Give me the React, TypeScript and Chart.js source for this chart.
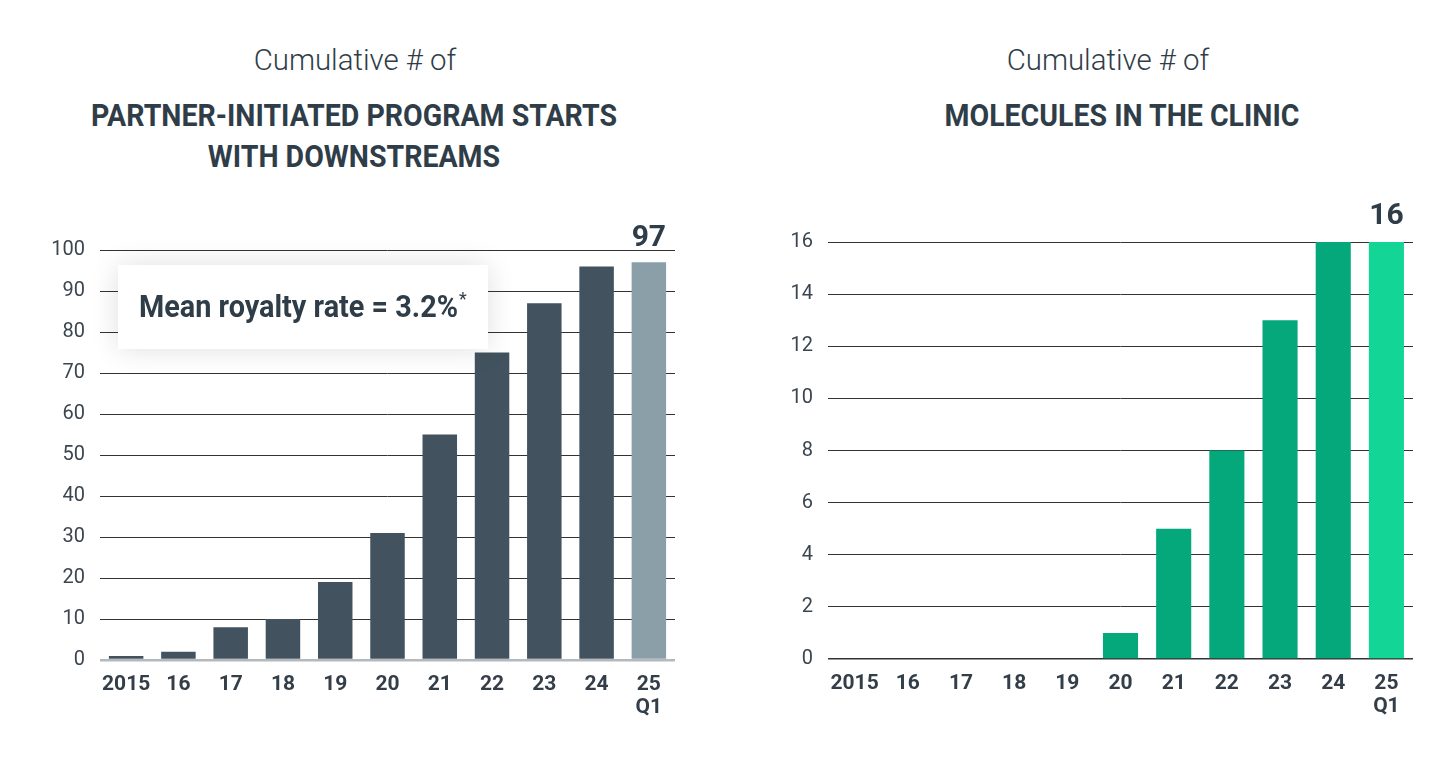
import React, { useEffect, useRef } from 'react';
import { Chart, registerables } from 'chart.js';

Chart.register(...registerables);

const categories: (string | string[])[] = ['2015', '16', '17', '18', '19', '20', '21', '22', '23', '24', ['25', 'Q1']];
const programStarts = [1, 2, 8, 10, 19, 31, 55, 75, 87, 96, 97];
const molecules = [0, 0, 0, 0, 0, 1, 5, 8, 13, 16, 16];
const leftColors = ['#42535f', '#42535f', '#42535f', '#42535f', '#42535f', '#42535f', '#42535f', '#42535f', '#42535f', '#42535f', '#8a9fa8'];
const rightColors = ['#05a87a', '#05a87a', '#05a87a', '#05a87a', '#05a87a', '#05a87a', '#05a87a', '#05a87a', '#05a87a', '#05a87a', '#12d596'];
const leftTicks = { max: 100, step: 10 };
const rightTicks = { max: 16, step: 2 };
const annotationText = 'Mean royalty rate = 3.2%';

const TEXT = '#2f3d48';

const lastValuePlugin = {
  id: 'lastValue',
  afterDatasetsDraw(chart: any, _args: any, opts: any) {
    const meta = chart.getDatasetMeta(0);
    const idx = meta.data.length - 1;
    const el = meta.data[idx];
    const v = chart.data.datasets[0].data[idx];
    const ctx = chart.ctx;
    ctx.save();
    ctx.font = 'bold 30px Roboto';
    ctx.fillStyle = TEXT;
    ctx.textAlign = 'center';
    ctx.textBaseline = 'bottom';
    ctx.fillText(String(v), el.x, el.y - (opts.gap ?? 9));
    ctx.restore();
  },
};

const annotationPlugin = {
  id: 'royaltyBox',
  afterDatasetsDraw(chart: any, _args: any, opts: any) {
    if (!opts || !opts.text) return;
    const ctx = chart.ctx;
    const a = chart.chartArea;
    const x = a.left + 18;
    const y = a.top + 15;
    const w = 370;
    const h = 84;
    ctx.save();
    ctx.shadowColor = 'rgba(0,0,0,0.13)';
    ctx.shadowBlur = 28;
    ctx.fillStyle = '#ffffff';
    ctx.fillRect(x, y, w, h);
    ctx.shadowColor = 'transparent';
    ctx.shadowBlur = 0;
    ctx.fillStyle = TEXT;
    ctx.font = 'bold 32px Roboto';
    ctx.textAlign = 'left';
    ctx.textBaseline = 'alphabetic';
    const tw = ctx.measureText(opts.text).width;
    const target = 319;
    const sx = target / tw;
    ctx.save();
    ctx.translate(x + 21, y + 52);
    ctx.scale(sx, 1);
    ctx.fillText(opts.text, 0, 0);
    ctx.restore();
    ctx.font = '18px Roboto';
    ctx.fillText('*', x + 21 + target + 1, y + 40);
    ctx.restore();
  },
};

function makeChart(
  canvas: HTMLCanvasElement,
  data: number[],
  colors: string[],
  ticks: { max: number; step: number },
  layout: { top: number; right: number; yWidth: number; xHeight: number },
  zeroColor: string,
  zeroWidth: number,
  gap: number,
  annotation: string | null
) {
  return new Chart(canvas, {
    type: 'bar',
    data: {
      labels: categories as any,
      datasets: [
        {
          data,
          backgroundColor: colors,
          borderWidth: 0,
          categoryPercentage: 1,
          barPercentage: 0.66,
        },
      ],
    },
    options: {
      animation: false,
      responsive: true,
      maintainAspectRatio: false,
      layout: { padding: { top: layout.top, right: layout.right, left: 0, bottom: 0 } },
      plugins: {
        legend: { display: false },
        tooltip: { enabled: false },
        lastValue: { gap },
        royaltyBox: { text: annotation },
      } as any,
      scales: {
        x: {
          grid: { display: false },
          border: { display: false },
          ticks: {
            color: '#333e48',
            font: { family: 'Roboto', size: 21, weight: 'bold', lineHeight: 1.1 },
            padding: 5,
            maxRotation: 0,
            autoSkip: false,
          },
          afterFit(scale: any) {
            scale.height = layout.xHeight;
          },
        },
        y: {
          min: 0,
          max: ticks.max,
          border: { display: false },
          grid: {
            drawTicks: false,
            color: (c: any) => (c.tick && c.tick.value === 0 ? zeroColor : '#333333'),
            lineWidth: (c: any) => (c.tick && c.tick.value === 0 ? zeroWidth : 1),
          },
          ticks: {
            stepSize: ticks.step,
            color: '#3c4650',
            font: { family: 'Roboto', size: 20 },
            padding: 15,
          },
          afterFit(scale: any) {
            scale.width = layout.yWidth;
          },
        },
      },
    },
    plugins: [lastValuePlugin, annotationPlugin],
  });
}

const titleSmall: React.CSSProperties = {
  position: 'absolute',
  fontFamily: 'Roboto',
  fontWeight: 300,
  fontSize: 30,
  color: TEXT,
  textAlign: 'center',
  whiteSpace: 'nowrap',
  transform: 'translateX(-50%) scaleX(0.98)',
  lineHeight: '34px',
};

const titleBig: React.CSSProperties = {
  position: 'absolute',
  fontFamily: 'Roboto',
  fontWeight: 700,
  fontSize: 31,
  color: TEXT,
  textAlign: 'center',
  whiteSpace: 'nowrap',
  transform: 'translateX(-50%) scaleX(0.92)',
  lineHeight: '41px',
};

export default function App() {
  const leftRef = useRef<HTMLCanvasElement>(null);
  const rightRef = useRef<HTMLCanvasElement>(null);

  useEffect(() => {
    const c1 = makeChart(
      leftRef.current!,
      programStarts,
      leftColors,
      leftTicks,
      { top: 50, right: 15, yWidth: 70, xHeight: 70 },
      '#b3b9bd',
      2.5,
      9,
      annotationText
    );
    const c2 = makeChart(
      rightRef.current!,
      molecules,
      rightColors,
      rightTicks,
      { top: 52, right: 17, yWidth: 68, xHeight: 71 },
      '#333333',
      1.5,
      11,
      null
    );
    return () => {
      c1.destroy();
      c2.destroy();
    };
  }, []);

  return (
    <div style={{ position: 'fixed', left: 0, top: 0, width: 1456, height: 773, background: '#fff', overflow: 'hidden' }}>
      <div style={{ ...titleSmall, left: 355, top: 43 }}>Cumulative # of</div>
      <div style={{ ...titleBig, left: 354, top: 95 }}>
        PARTNER-INITIATED PROGRAM STARTS
        <br />
        WITH DOWNSTREAMS
      </div>
      <div style={{ ...titleSmall, left: 1108, top: 43 }}>Cumulative # of</div>
      <div style={{ ...titleBig, left: 1122, top: 95 }}>MOLECULES IN THE CLINIC</div>
      <div style={{ position: 'absolute', left: 30, top: 200, width: 660, height: 530 }}>
        <canvas ref={leftRef} />
      </div>
      <div style={{ position: 'absolute', left: 760, top: 190, width: 670, height: 540 }}>
        <canvas ref={rightRef} />
      </div>
    </div>
  );
}
